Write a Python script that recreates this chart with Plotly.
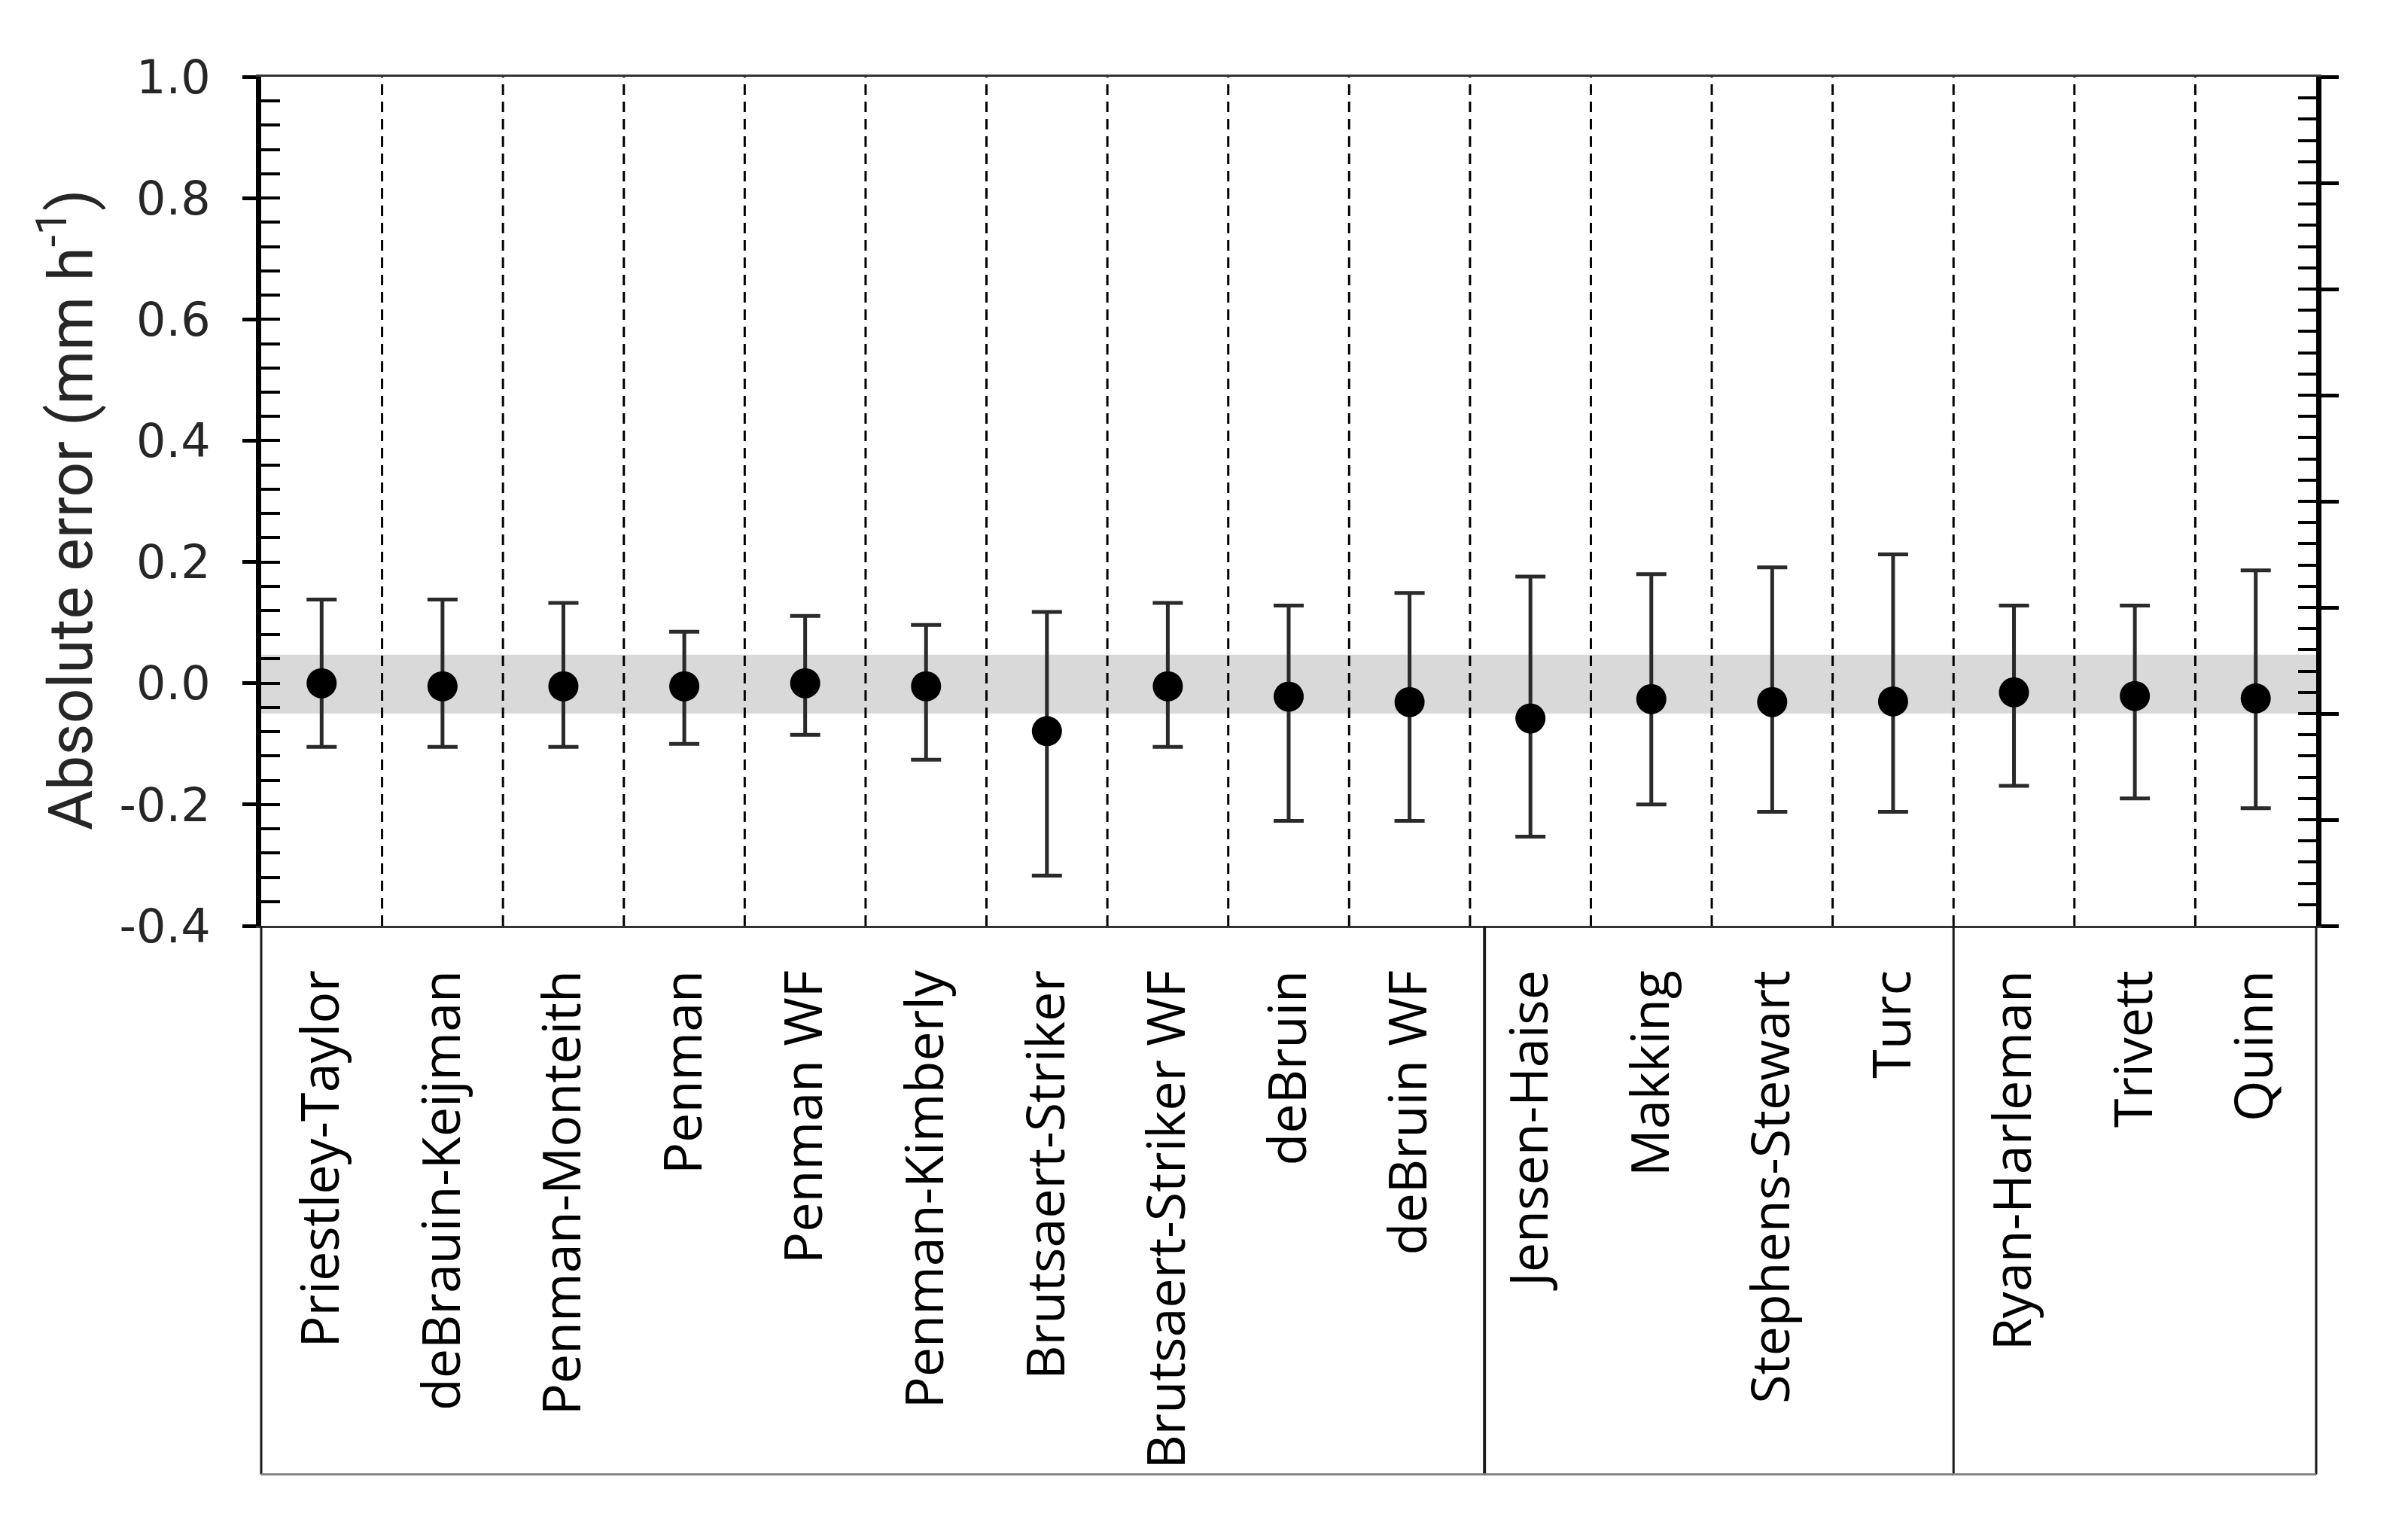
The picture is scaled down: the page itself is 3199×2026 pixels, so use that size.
import plotly.graph_objects as go

# ---- data ----
categories = [
    "Priestley-Taylor", "deBrauin-Keijman", "Penman-Monteith", "Penman", "Penman WF",
    "Penman-Kimberly", "Brutsaert-Striker", "Brutsaert-Striker WF", "deBruin", "deBruin WF",
    "Jensen-Haise", "Makking", "Stephens-Stewart", "Turc", "Ryan-Harleman", "Trivett", "Quinn",
]
mean_error = [0.0, -0.005, -0.005, -0.005, 0.0, -0.005, -0.079, -0.005, -0.022, -0.031,
              -0.058, -0.026, -0.031, -0.030, -0.015, -0.021, -0.025]
upper_error = [0.138, 0.138, 0.1325, 0.085, 0.111, 0.096, 0.1175, 0.1325, 0.128, 0.149,
               0.176, 0.180, 0.191, 0.2125, 0.128, 0.128, 0.186]
lower_error = [-0.105, -0.105, -0.105, -0.100, -0.085, -0.126, -0.317, -0.105, -0.227, -0.227,
               -0.253, -0.200, -0.212, -0.212, -0.169, -0.190, -0.206]
y_tick_values = [-0.4, -0.2, 0.0, 0.2, 0.4, 0.6, 0.8, 1.0]
y_tick_labels = ["-0.4", "-0.2", "0.0", "0.2", "0.4", "0.6", "0.8", "1.0"]
band_low, band_high = -0.05, 0.047
group_breaks = [9.5, 13.5]   # category boundaries separating the method groups
y_title = "Absolute error (mm h<sup>-1</sup>)"

n = len(categories)
err_plus = [u - m for u, m in zip(upper_error, mean_error)]
err_minus = [m - l for m, l in zip(mean_error, lower_error)]

fig = go.Figure()
fig.add_trace(go.Scatter(
    x=list(range(n)), y=mean_error, mode="markers",
    marker=dict(size=40, color="black", symbol="circle"),
    error_y=dict(type="data", symmetric=False, array=err_plus, arrayminus=err_minus,
                 color="#2a2a2a", thickness=5, width=20),
    showlegend=False, cliponaxis=False,
))

shapes = []
# grey tolerance band
shapes.append(dict(type="rect", xref="paper", yref="y", x0=0, x1=1, y0=band_low, y1=band_high,
                   fillcolor="#d9d9d9", line=dict(width=0), layer="below"))
# dashed separators between categories
for i in range(n - 1):
    shapes.append(dict(type="line", xref="x", yref="paper", x0=i + 0.5, x1=i + 0.5, y0=0, y1=1,
                       line=dict(color="black", width=3, dash="14px,9px"), layer="below"))
# table below the axis
box_bottom = -0.646
def px(xv):
    return (xv + 0.5) / n
for xb, w in [(-0.5, 3), (n - 0.5, 3), (group_breaks[0] + 0.12, 4), (group_breaks[1], 3)]:
    shapes.append(dict(type="line", xref="paper", yref="paper", x0=px(xb), x1=px(xb),
                       y0=0, y1=box_bottom, line=dict(color="#1a1a1a", width=w)))
shapes.append(dict(type="line", xref="paper", yref="paper", x0=0, x1=1, y0=box_bottom, y1=box_bottom,
                   line=dict(color="#808080", width=3)))

fig.update_layout(
    width=3199, height=2026, autosize=False,
    margin=dict(l=347, r=122, t=102, b=796),
    paper_bgcolor="white", plot_bgcolor="white",
    shapes=shapes,
    xaxis=dict(
        range=[-0.5, n - 0.5], tickmode="array", tickvals=list(range(n)), ticktext=categories,
        tickangle=-90, ticks="", showgrid=False, zeroline=False,
        showline=True, linecolor="#333333", linewidth=3, mirror=True,
        tickfont=dict(family="Open Sans", size=70, color="black"),
        ticklabelstandoff=28,
    ),
    yaxis=dict(
        range=[-0.4, 1.0], tickmode="array", tickvals=y_tick_values, ticktext=y_tick_labels,
        ticks="outside", ticklen=18, tickwidth=5, tickcolor="black",
        showline=True, linecolor="black", linewidth=7,
        showgrid=False, zeroline=False,
        tickfont=dict(family="DejaVu Sans", size=62, color="#262626"),
        ticklabelstandoff=30,
    ),
    yaxis3=dict(
        overlaying="y", side="left", anchor="x", range=[-0.4, 1.0],
        tickmode="linear", tick0=-0.4, dtick=0.04,
        ticks="inside", ticklen=25, tickwidth=4, tickcolor="black",
        showticklabels=False, showgrid=False, zeroline=False, showline=False,
    ),
    yaxis2=dict(
        overlaying="y", side="right", anchor="x", range=[0, 8],
        tickmode="linear", tick0=0, dtick=1,
        ticks="outside", ticklen=23, tickwidth=5, tickcolor="black",
        showline=True, linecolor="black", linewidth=7,
        showticklabels=False, showgrid=False, zeroline=False,
    ),
    yaxis4=dict(
        overlaying="y", side="right", anchor="x", range=[0, 8],
        tickmode="linear", tick0=0, dtick=0.2,
        ticks="inside", ticklen=24, tickwidth=4, tickcolor="black",
        showticklabels=False, showgrid=False, zeroline=False, showline=False,
    ),
    annotations=[dict(
        text=y_title, xref="paper", yref="paper", x=-0.0949, y=0.49,
        xanchor="center", yanchor="middle", textangle=-90, showarrow=False,
        font=dict(family="Roboto", size=82, color="#262626"),
    )],
)

# invisible traces so the overlay axes are drawn
for ax in ["y2", "y3", "y4"]:
    fig.add_trace(go.Scatter(x=[0], y=[0], yaxis=ax, mode="markers", marker=dict(opacity=0),
                             showlegend=False, hoverinfo="skip"))

fig.write_html("out.html", config={"displayModeBar": False},
               post_script="document.body.style.margin='0';")
